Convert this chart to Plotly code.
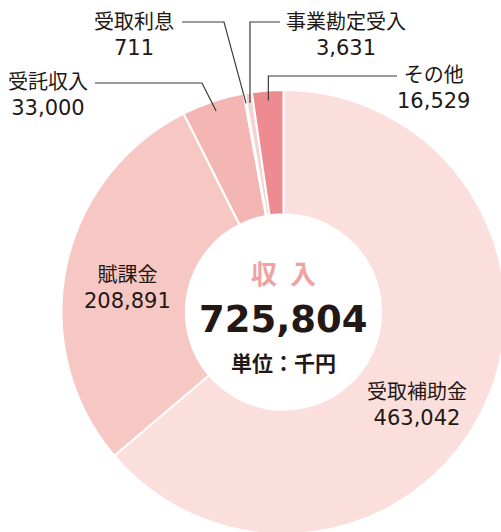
import math
import plotly.graph_objects as go

# ---- data ----
categories = ["受取補助金", "賦課金", "受託収入", "受取利息", "事業勘定受入", "その他"]
values = [463042, 208891, 33000, 711, 3631, 16529]
colors = ["#fadfdc", "#f7c7c4", "#f3b6b3", "#f8dcdc", "#f6d3d3", "#ee8b91"]
value_labels = ["463,042", "208,891", "33,000", "711", "3,631", "16,529"]
total_label = "725,804"
center_title = "収\u2002入"
unit_label = "単位：千円"

# ---- layout geometry (pixels) ----
W, H = 512, 542
CX, CY, R = 283.5, 312.0, 222.0
HOLE = 0.44

def px(x):
    return x / W

def py(y):
    return 1 - y / H

fig = go.Figure()
fig.add_trace(go.Pie(
    labels=categories, values=values, sort=False, direction="clockwise",
    rotation=0, hole=HOLE, textinfo="none", hoverinfo="label+value",
    marker=dict(colors=colors, line=dict(color="white", width=2)),
    domain=dict(x=[px(CX - R), px(CX + R)], y=[py(CY + R), py(CY - R)]),
    showlegend=False,
))

total = sum(values)
cum = 0
mid_angle = {}
for c, v in zip(categories, values):
    mid_angle[c] = (cum + v / 2) / total * 2 * math.pi
    cum += v

def anchor(cat, rf=0.955):
    a = mid_angle[cat]
    return CX + R * rf * math.sin(a), CY - R * rf * math.cos(a)

LBL_FONT = "DejaVu Sans, Noto Sans CJK JP, sans-serif"
TXT = "#231815"
LINE = "#3e3a39"

# label block centers (pixels)
label_pos = {
    "受取補助金": (417, 405),
    "賦課金": (127, 288),
    "受託収入": (48, 95),
    "受取利息": (134, 35),
    "事業勘定受入": (346, 35),
    "その他": (433, 88),
}
for c, vl in zip(categories, value_labels):
    x, y = label_pos[c]
    fig.add_annotation(
        x=px(x), y=py(y), xref="paper", yref="paper", showarrow=False,
        xanchor="center", yanchor="middle", align="center",
        text=f"{c}<br><span style='font-size:21px'>{vl}</span>",
        font=dict(family=LBL_FONT, size=20, color=TXT),
    )

# leader lines: (text end point, elbow) -> slice anchor
leaders = {
    "受託収入": ((95, 83), (202, 83)),
    "受取利息": ((182, 22), (224, 22)),
    "事業勘定受入": ((280, 22), None),
    "その他": ((397, 76), None),
}
for c, (start, elbow) in leaders.items():
    ax, ay = anchor(c)
    if elbow is None:
        elbow = (ax, start[1])
    path = (f"M {px(start[0])},{py(start[1])} L {px(elbow[0])},{py(elbow[1])} "
            f"L {px(ax)},{py(ay)}")
    fig.add_shape(type="path", path=path, xref="paper", yref="paper",
                  line=dict(color=LINE, width=1.2))

# center texts
fig.add_annotation(x=px(CX), y=py(272), xref="paper", yref="paper", showarrow=False,
                   xanchor="center", yanchor="middle", text=f"<b>{center_title}</b>",
                   font=dict(family="Noto Sans CJK JP", size=26, color="#f0a2a2"))
fig.add_annotation(x=px(CX), y=py(319), xref="paper", yref="paper", showarrow=False,
                   xanchor="center", yanchor="middle", text=f"<b>{total_label}</b>",
                   font=dict(family="DejaVu Sans", size=37, color=TXT))
fig.add_annotation(x=px(CX), y=py(362), xref="paper", yref="paper", showarrow=False,
                   xanchor="center", yanchor="middle", text=f"<b>{unit_label}</b>",
                   font=dict(family="Noto Sans CJK JP", size=21, color=TXT))

fig.update_layout(
    width=W, height=H, margin=dict(l=0, r=0, t=0, b=0),
    paper_bgcolor="white", plot_bgcolor="white",
)

fig.write_html(
    "out.html",
    config={"displayModeBar": False},
    post_script="document.body.style.margin='0';document.body.style.overflow='hidden';",
)
